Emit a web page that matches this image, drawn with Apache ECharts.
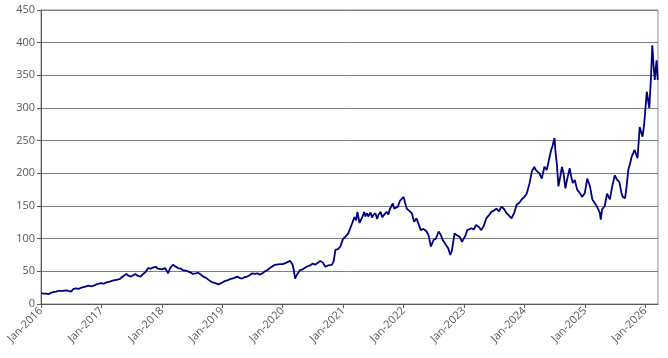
<!DOCTYPE html>
<html><head><meta charset="utf-8">
<script src="https://cdn.jsdelivr.net/npm/echarts@6/dist/echarts.min.js"></script>
<style>html,body{margin:0;padding:0;background:#fff}#c{width:668px;height:358px}</style>
</head><body><div id="c"></div>
<script>
const dates = [
'2016-01-01','2016-01-15','2016-02-01','2016-02-15','2016-03-01','2016-03-15','2016-04-01','2016-04-15','2016-05-01','2016-05-15','2016-06-01','2016-06-15','2016-07-01','2016-07-15','2016-08-01','2016-08-15','2016-09-01','2016-09-15','2016-10-01','2016-10-15','2016-11-01','2016-11-15','2016-12-01','2016-12-15',
'2017-01-01','2017-01-15','2017-02-01','2017-02-15','2017-03-01','2017-03-15','2017-04-01','2017-04-20','2017-05-10','2017-06-01','2017-06-15','2017-06-28','2017-07-10','2017-07-25','2017-08-10','2017-08-25','2017-09-10','2017-09-25','2017-10-10','2017-10-25','2017-11-10','2017-11-25','2017-12-08','2017-12-20',
'2018-01-01','2018-01-20','2018-02-08','2018-02-20','2018-03-08','2018-03-20','2018-04-08','2018-04-25','2018-05-08','2018-05-25','2018-06-08','2018-06-25','2018-07-08','2018-07-25','2018-08-08','2018-08-20','2018-09-08','2018-09-25','2018-10-05','2018-10-20','2018-11-05','2018-11-20','2018-12-10','2018-12-20',
'2019-01-01','2019-01-15','2019-02-01','2019-02-15','2019-03-01','2019-03-15','2019-04-01','2019-04-15','2019-05-01','2019-05-15','2019-06-01','2019-06-15','2019-07-01','2019-07-15','2019-08-01','2019-08-15','2019-09-01','2019-09-15','2019-10-01','2019-10-15','2019-11-15','2019-12-15',
'2020-01-01','2020-01-20','2020-02-15','2020-03-01','2020-03-08','2020-03-16','2020-03-25','2020-04-15','2020-05-01','2020-05-25','2020-06-15','2020-07-01','2020-07-15','2020-08-01','2020-08-15','2020-09-01','2020-09-15','2020-10-01','2020-10-25','2020-11-05','2020-11-15','2020-12-01','2020-12-15',
'2021-01-01','2021-01-15','2021-02-01','2021-02-10','2021-02-25','2021-03-10','2021-03-20','2021-03-28','2021-04-10','2021-04-25','2021-05-08','2021-05-15','2021-05-25','2021-06-01','2021-06-15','2021-06-25','2021-07-01','2021-07-15','2021-07-25','2021-08-01','2021-08-15','2021-08-25','2021-09-01','2021-09-20','2021-10-01','2021-10-10','2021-10-28','2021-11-05','2021-11-15','2021-11-28','2021-12-10','2021-12-20',
'2022-01-01','2022-01-10','2022-01-20','2022-02-01','2022-02-20','2022-03-05','2022-03-20','2022-04-01','2022-04-15','2022-05-01','2022-05-20','2022-06-01','2022-06-15','2022-07-01','2022-07-15','2022-08-01','2022-08-15','2022-08-25','2022-09-10','2022-09-28','2022-10-10','2022-10-20','2022-11-05','2022-11-20','2022-12-05','2022-12-20',
'2023-01-01','2023-01-10','2023-01-20','2023-02-01','2023-02-15','2023-03-01','2023-03-15','2023-04-01','2023-04-15','2023-05-01','2023-05-15','2023-06-01','2023-06-15','2023-07-01','2023-07-15','2023-08-01','2023-08-15','2023-09-01','2023-09-15','2023-10-01','2023-10-15','2023-11-01','2023-11-15','2023-12-01','2023-12-15',
'2024-01-01','2024-01-15','2024-02-01','2024-02-15','2024-03-01','2024-03-10','2024-03-20','2024-04-01','2024-04-15','2024-05-01','2024-05-15','2024-05-28','2024-06-10','2024-06-18','2024-07-01','2024-07-08','2024-07-15','2024-07-25','2024-08-05','2024-08-15','2024-08-25','2024-09-05','2024-09-15','2024-10-01','2024-10-10','2024-10-20','2024-11-01','2024-11-15','2024-12-01','2024-12-15',
'2025-01-01','2025-01-15','2025-02-01','2025-02-15','2025-03-01','2025-03-15','2025-04-01','2025-04-07','2025-04-15','2025-05-01','2025-05-15','2025-06-01','2025-06-15','2025-07-01','2025-07-15','2025-07-28','2025-08-10','2025-08-18','2025-09-01','2025-09-10','2025-09-20','2025-10-01','2025-10-10','2025-10-28','2025-11-15','2025-11-28','2025-12-15','2025-12-25',
'2026-01-01','2026-01-10','2026-01-25','2026-02-05','2026-02-12','2026-02-20','2026-02-27','2026-03-10','2026-03-17'
];
const values = [
17,16,16,15,17,18,19,20,20,20,21,20,19,23,24,23,25,26,27,28,27,28,30,31,
32,31,33,34,35,36,37,38,42,46,43,42,45,46,43,42,46,49,55,54,56,57,54,55,
53,55,47,55,60,57,55,54,52,51,50,48,46,47,48,45,42,40,37,35,33,32,30,32,
33,35,36,38,39,40,42,40,39,41,42,44,47,46,47,45,47,50,52,55,60,61,
61,63,66,60,52,39,44,52,53,57,59,62,60,63,66,63,57,59,60,66,83,84,88,
100,103,108,111,124,133,128,141,124,132,141,134,139,134,140,132,136,139,130,136,141,133,136,141,137,145,154,146,149,149,158,155,
164,155,146,148,139,126,131,128,113,115,111,105,88,98,100,111,105,98,92,85,75,82,108,105,103,95,
95,105,113,110,116,114,121,118,113,120,131,136,141,143,146,142,149,145,139,135,131,140,152,155,160,
164,169,185,203,210,205,205,200,192,210,205,220,235,241,254,230,215,180,195,210,200,177,190,208,195,185,190,175,170,164,
170,192,180,160,155,149,140,129,145,150,169,160,180,197,190,187,170,164,162,180,205,215,225,236,223,271,256,275,
297,325,300,350,396,365,343,373,343
];
const yTicks = [0,50,100,150,200,250,300,350,400,450];

function toYear(s){
  const d = new Date(s + 'T00:00:00Z');
  const y = d.getUTCFullYear();
  const a = Date.UTC(y,0,1), b = Date.UTC(y+1,0,1);
  return y + (d.getTime()-a)/(b-a);
}
const seriesData = dates.map((d,i)=>[toYear(d), values[i]]);

const chart = echarts.init(document.getElementById('c'), null, {renderer:'canvas'});
const font = "'Open Sans', 'Noto Sans', sans-serif";
chart.setOption({
  animation:false,
  backgroundColor:'#ffffff',
  grid:{left:41, right:10, top:10, bottom:54, show:true, borderColor:'#8c8c8c', borderWidth:1, backgroundColor:'transparent'},
  xAxis:{
    type:'value', min:2016, max:2026.21, interval:1,
    axisLine:{show:true, onZero:false, lineStyle:{color:'#595959', width:1}},
    axisTick:{show:true, length:4, lineStyle:{color:'#595959'}},
    splitLine:{show:false},
    axisLabel:{rotate:45, fontSize:11, color:'#595959', fontFamily:font, margin:5, showMaxLabel:false,
      formatter:v=> Number.isInteger(v) ? 'Jan-' + v : ''}
  },
  yAxis:{
    type:'value', min:yTicks[0], max:yTicks[yTicks.length-1], interval:50,
    axisLine:{show:true, lineStyle:{color:'#595959', width:1}},
    axisTick:{show:true, length:4, lineStyle:{color:'#595959'}},
    splitLine:{show:true, lineStyle:{color:'#808080', width:1}},
    axisLabel:{fontSize:11, color:'#595959', fontFamily:font, margin:6}
  },
  series:[{
    type:'line', data:seriesData, showSymbol:false, symbol:'none',
    lineStyle:{color:'#000080', width:1.8}, itemStyle:{color:'#000080'}
  }]
});
</script></body></html>
